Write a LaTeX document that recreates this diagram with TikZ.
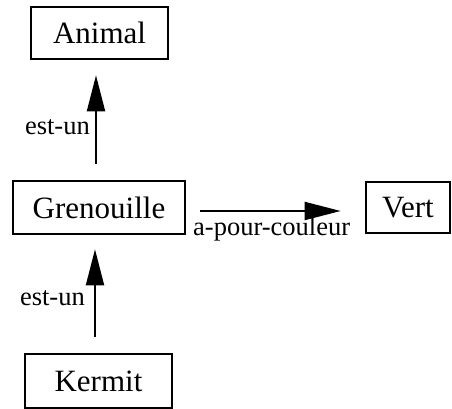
\documentclass[tikz,border=0pt]{standalone}
\usepackage{fontspec}
\setmainfont{Liberation Serif}
\usetikzlibrary{arrows.meta}
\begin{document}
\begin{tikzpicture}[x=1pt,y=-1pt,
  box/.style={draw, line width=2.6pt, inner sep=0pt, font=\fontsize{31}{31}\selectfont},
  lab/.style={inner sep=0pt, font=\fontsize{26.5}{26.5}\selectfont},
  arr/.style={line width=2pt, -{Triangle[length=36pt,width=18pt]}}]
\useasboundingbox (0,0) rectangle (452,409);
\node[box, minimum width=137pt, minimum height=52pt] (a) at (99.5,33) {Animal};
\node[box, minimum width=172pt, minimum height=53pt] (g) at (99,207.5) {Grenouille};
\node[box, minimum width=84pt, minimum height=51pt] (v) at (408,207.5) {Vert};
\node[box, minimum width=147pt, minimum height=54pt] (k) at (98.5,381) {Kermit};
\draw[arr, shorten <=16pt, shorten >=15pt] ([xshift=-3pt]g.north) -- ([xshift=-3.5pt]a.south);
\draw[arr, shorten <=16pt, shorten >=14pt] ([xshift=-3.5pt]k.north) -- ([xshift=-4pt]g.north |- g.south);
\draw[arr, shorten <=14pt, shorten >=24pt] ([yshift=-3.5pt]g.east) -- ([yshift=-3.5pt]v.west);
\node[lab, anchor=base east] (l1) at (90,135) {est-un};
\node[lab, anchor=base east] (l2) at (85,305) {est-un};
\node[lab, anchor=base west] (l3) at (193,235) {a-pour-couleur};
\end{tikzpicture}
\end{document}
